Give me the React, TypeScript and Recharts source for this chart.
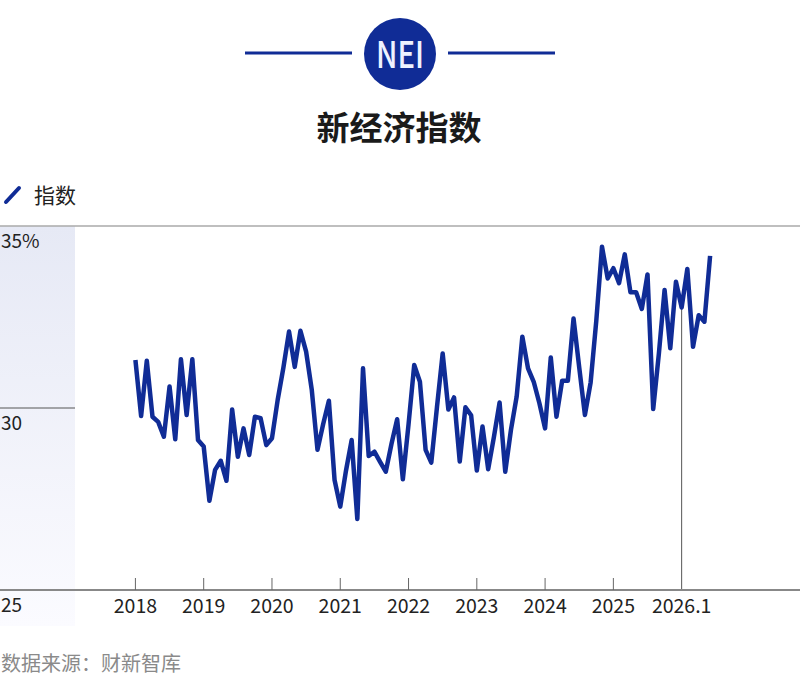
import React from 'react';
import {
  LineChart,
  Line,
  XAxis,
  YAxis,
  ReferenceLine,
} from 'recharts';

// 新经济指数 NEI, monthly from 2018.1 (index 0) through 2026.6
const START_YEAR = 2018;
const neiValues = [
  31.32, 29.78, 31.3, 29.76, 29.62, 29.21, 30.59, 29.14, 31.34, 29.81, 31.34, 29.12,
  28.94, 27.45, 28.3, 28.55, 28.0, 29.96, 28.66, 29.44, 28.71, 29.76, 29.72, 28.98,
  29.17, 30.22, 31.1, 32.1, 31.13, 32.12, 31.55, 30.49, 28.85, 29.56, 30.2, 28.02,
  27.29, 28.27, 29.12, 26.95, 31.09, 28.68, 28.8, 28.52, 28.25, 29.01, 29.69, 28.04,
  29.55, 31.18, 30.72, 28.85, 28.5, 30.03, 31.5, 29.96, 30.29, 28.53, 30.02, 29.8,
  28.28, 29.49, 28.32, 29.2, 30.15, 28.25, 29.4, 30.31, 31.96, 31.09, 30.72, 30.13,
  29.44, 31.39, 29.76, 30.75, 30.75, 32.46, 31.11, 29.81, 30.7, 32.4, 34.43, 33.56,
  33.84, 33.43, 34.22, 33.18, 33.18, 32.72, 33.67, 29.97, 31.5, 33.24, 31.64, 33.47,
  32.76, 33.82, 31.68, 32.55, 32.37, 34.18,
];

const xTicks = [0, 12, 24, 36, 48, 60, 72, 84, 96];
const xTickLabels = ['2018', '2019', '2020', '2021', '2022', '2023', '2024', '2025', '2026.1'];
const yTicks = [25, 30, 35];
const yTickLabels = ['25', '30', '35%'];
const markerIndex = 96; // 2026.1

const data = neiValues.map((v, i) => ({
  i,
  month: `${START_YEAR + Math.floor(i / 12)}.${(i % 12) + 1}`,
  value: v,
}));

const BLUE = '#102c96';
const FONT = '"Noto Sans CJK SC", "Noto Sans", sans-serif';
const W = 800;
const H = 697;

const XTick = (props: any) => {
  const { x, y, payload } = props;
  const idx = xTicks.indexOf(payload.value);
  const isMarker = payload.value === markerIndex;
  return (
    <g>
      {!isMarker && <line x1={x} x2={x} y1={y - 12} y2={y} stroke="#666" strokeWidth={1} />}
      <text x={x} y={y + 23} textAnchor="middle" fontSize={19.5} fill="#222" fontFamily={FONT}>
        {xTickLabels[idx]}
      </text>
    </g>
  );
};

const YTick = (props: any) => {
  const { y, payload } = props;
  const idx = yTicks.indexOf(payload.value);
  return (
    <g>
      {payload.value === 30 && <line x1={0} x2={75} y1={y} y2={y} stroke="#555" strokeWidth={1} />}
      <text x={1} y={y + 22} textAnchor="start" fontSize={19} fill="#222" fontFamily={FONT}>
        {yTickLabels[idx]}
      </text>
    </g>
  );
};

export default function App() {
  return (
    <div style={{ position: 'absolute', left: 0, top: 0, width: W, height: H, background: '#fff', fontFamily: FONT }}>
      {/* header badge, title and legend */}
      <svg width={W} height={220} style={{ position: 'absolute', left: 0, top: 0 }}>
        <line x1={245} x2={352} y1={53} y2={53} stroke={BLUE} strokeWidth={3} />
        <line x1={448} x2={555} y1={53} y2={53} stroke={BLUE} strokeWidth={3} />
        <circle cx={400} cy={54} r={36} fill={BLUE} />
        <text x={400} y={68} textAnchor="middle" fontSize={37} fontWeight={500} fill="#eef2ff" fontFamily={FONT}
          textLength={48} lengthAdjust="spacingAndGlyphs">NEI</text>
        <text x={399} y={140} textAnchor="middle" fontSize={33} fontWeight={700} fill="#1a1a1a" fontFamily={FONT}>
          新经济指数
        </text>
        <line x1={6} y1={202} x2={19} y2={188} stroke={BLUE} strokeWidth={4} strokeLinecap="round" />
        <text x={34} y={203} fontSize={21} fill="#222" fontFamily={FONT}>指数</text>
      </svg>

      {/* shaded y-axis band */}
      <div style={{
        position: 'absolute', left: 0, top: 226, width: 75, height: 400,
        background: 'linear-gradient(#e6e9f5, #fbfbff)',
      }} />

      <div style={{ position: 'absolute', left: 0, top: 0 }}>
        <LineChart width={W} height={H} data={data} margin={{ top: 226, right: 0, bottom: 67, left: -1 }}>
          <XAxis
            dataKey="i"
            type="number"
            domain={[-23.8, 116.8]}
            ticks={xTicks}
            interval={0}
            height={40}
            tickSize={0}
            tickMargin={0}
            tickLine={false}
            axisLine={{ stroke: '#888', strokeWidth: 2 }}
            tick={<XTick />}
          />
          <YAxis
            type="number"
            domain={[25, 35]}
            ticks={yTicks}
            interval={0}
            width={1}
            axisLine={false}
            tickLine={false}
            tick={<YTick />}
          />
          <ReferenceLine y={35} stroke="#aaa" strokeWidth={1.5} />
          <ReferenceLine
            segment={[{ x: markerIndex, y: neiValues[markerIndex] }, { x: markerIndex, y: 25 }]}
            stroke="#555"
            strokeWidth={1}
          />
          <Line
            type="linear"
            dataKey="value"
            stroke={BLUE}
            strokeWidth={4.5}
            strokeLinejoin="round"
            dot={false}
            activeDot={false}
            isAnimationActive={false}
          />
        </LineChart>
      </div>

      <div style={{ position: 'absolute', left: 1, top: 648, fontSize: 20, color: '#8a8a8a' }}>
        数据来源：财新智库
      </div>
    </div>
  );
}
